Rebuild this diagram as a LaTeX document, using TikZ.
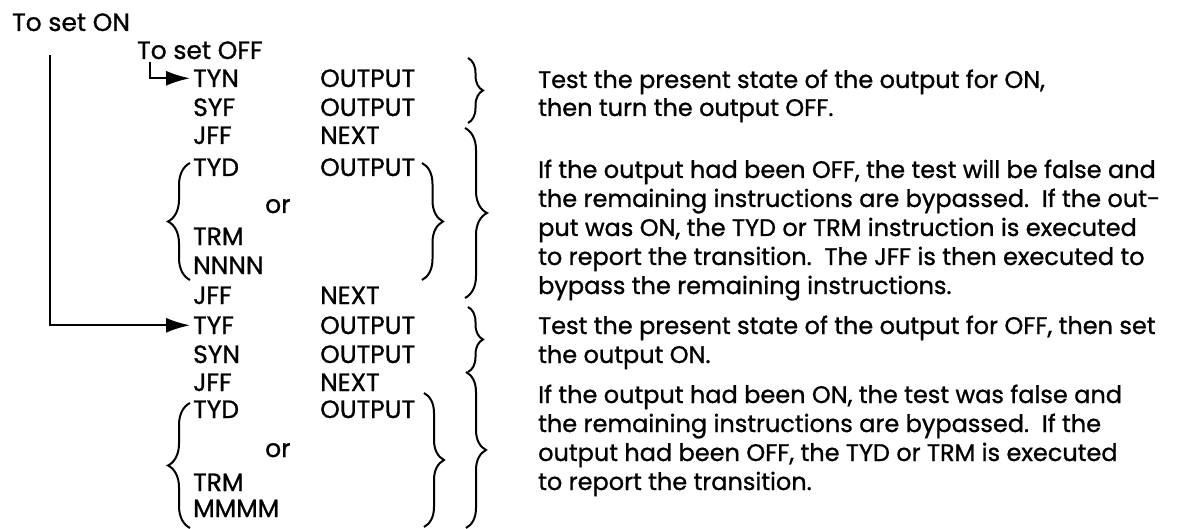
\documentclass[tikz,border=0pt]{standalone}
\usepackage{fontspec}
\setmainfont{Poppins}[FakeBold=1]
\usetikzlibrary{decorations.pathreplacing,arrows.meta}
\begin{document}
\begin{tikzpicture}[x=1pt,y=-1pt,
  lt/.style={anchor=base west, inner sep=0pt, font=\fontsize{25}{25}\selectfont},
  rt/.style={anchor=base west, inner sep=0pt, font=\fontsize{24}{24}\selectfont},
  conn/.style={line width=2pt, -{Latex[length=24pt,width=15pt]}},
  bracel/.style={line width=2pt, decorate, decoration={brace, amplitude=22pt}},
  bracer/.style={line width=2pt, decorate, decoration={brace, amplitude=#1}},
]
\useasboundingbox (0,0) rectangle (1182,529);
% headers
\node[lt] (ton) at (12,31) {To set ON};
\node[lt] (toff) at (137,59) {To set OFF};
% block A
\node[lt] (tyn) at (193,87) {TYN};   \node[lt] (tyno) at (320,87) {OUTPUT};
\node[lt] (syf) at (193,116) {SYF};  \node[lt] (syfo) at (320,116) {OUTPUT};
\node[lt] (jf1) at (193,144) {JFF};  \node[lt] (jf1o) at (320,144) {NEXT};
\node[lt] (tyd1) at (193,176) {TYD}; \node[lt] (tyd1o) at (320,176) {OUTPUT};
\node[lt] (or1) at (265,213) {or};
\node[lt] (trm1) at (193,245) {TRM};
\node[lt] (nnnn) at (193,274) {NNNN};
\node[lt] (jf2) at (193,304) {JFF};  \node[lt] (jf2o) at (320,304) {NEXT};
% block B
\node[lt] (tyf) at (193,334) {TYF};  \node[lt] (tyfo) at (320,334) {OUTPUT};
\node[lt] (syn) at (193,363) {SYN};  \node[lt] (syno) at (320,363) {OUTPUT};
\node[lt] (jf3) at (193,391) {JFF};  \node[lt] (jf3o) at (320,391) {NEXT};
\node[lt] (tyd2) at (193,418) {TYD}; \node[lt] (tyd2o) at (320,418) {OUTPUT};
\node[lt] (or2) at (265,457) {or};
\node[lt] (trm2) at (193,491) {TRM};
\node[lt] (mmmm) at (193,517) {MMMM};
% connectors
\coordinate (onstart) at (50,55);
\coordinate (offstart) at (150,62);
\draw[conn] (onstart) |- ([xshift=-3pt]tyf.west);
\draw[conn] (offstart) |- ([xshift=-3pt]tyn.west);
% left braces
\draw[bracel] (190,280) -- (190,163);
\draw[bracel] (190,528) -- (190,403);
% right braces
\draw[bracer=15pt] (468,58) -- (468,123);
\draw[bracer=22pt] (465,128) -- (465,298);
\draw[bracer=21pt] (422,163) -- (422,280);
\draw[bracer=15pt] (468,307) -- (468,372);
\draw[bracer=20pt] (466,372) -- (466,528);
\draw[bracer=20pt] (424,393) -- (424,527);
% right texts
\node[rt] (a1) at (538,88) {Test the present state of the output for ON,};
\node[rt] (a2) at (538,116) {then turn the output OFF.};
\node[rt] (b1) at (538,178) {If the output had been OFF, the test will be false and};
\node[rt] (b2) at (538,207) {the remaining instructions are bypassed.\ \ If the out-};
\node[rt] (b3) at (538,236) {put was ON, the TYD or TRM instruction is executed};
\node[rt] (b4) at (538,265) {to report the transition.\ \ The JFF is then executed to};
\node[rt] (b5) at (538,294) {bypass the remaining instructions.};
\node[rt] (c1) at (538,334) {Test the present state of the output for OFF, then set};
\node[rt] (c2) at (538,363) {the output ON.};
\node[rt] (d1) at (538,403) {If the output had been ON, the test was false and};
\node[rt] (d2) at (538,432) {the remaining instructions are bypassed.\ \ If the};
\node[rt] (d3) at (538,461) {output had been OFF, the TYD or TRM is executed};
\node[rt] (d4) at (538,490) {to report the transition.};
\end{tikzpicture}
\end{document}
